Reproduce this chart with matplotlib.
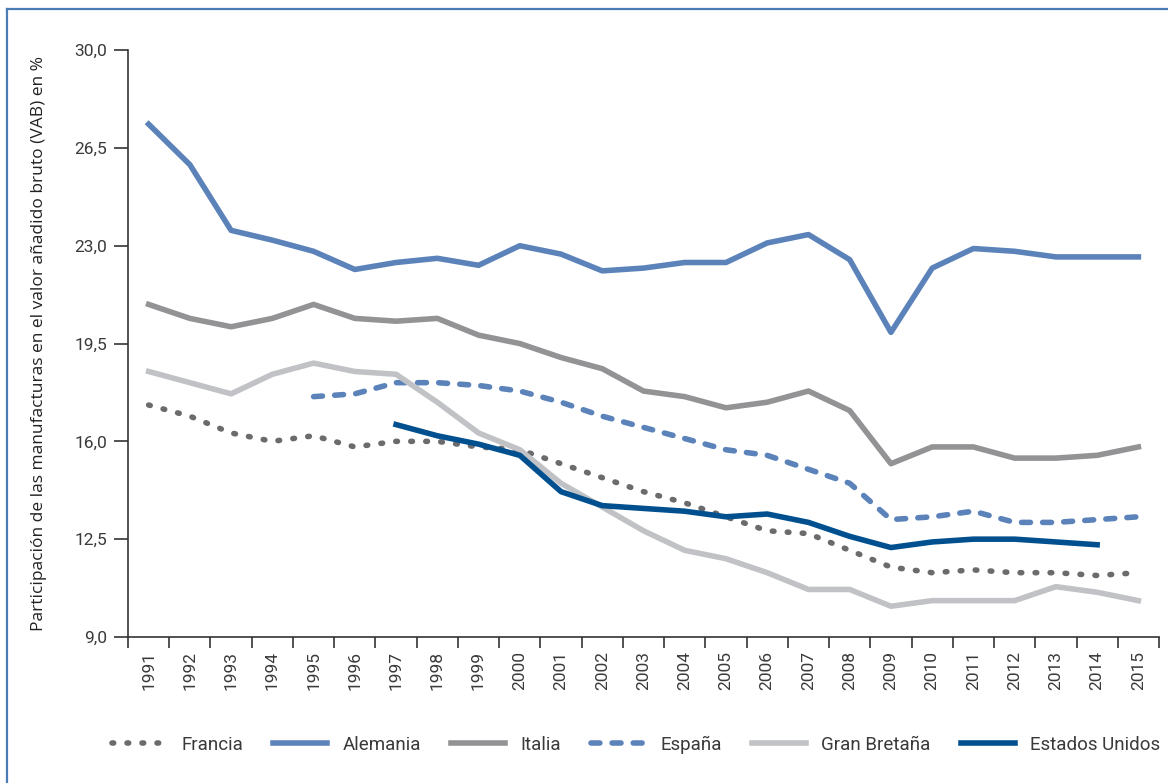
import matplotlib
matplotlib.use("Agg")
import matplotlib.pyplot as plt
from matplotlib.lines import Line2D
from matplotlib.ticker import FixedLocator, FuncFormatter
import numpy as np

years = list(range(1991, 2016))

francia = [17.3, 16.9, 16.3, 16.0, 16.2, 15.8, 16.0, 16.0, 15.8, 15.7, 15.2, 14.7, 14.2,
           13.8, 13.3, 12.8, 12.7, 12.1, 11.5, 11.3, 11.4, 11.3, 11.3, 11.2, 11.3]
alemania = [27.35, 25.9, 23.55, 23.2, 22.8, 22.15, 22.4, 22.55, 22.3, 23.0, 22.7, 22.1, 22.2,
            22.4, 22.4, 23.1, 23.4, 22.5, 19.9, 22.2, 22.9, 22.8, 22.6, 22.6, 22.6]
italia = [20.9, 20.4, 20.1, 20.4, 20.9, 20.4, 20.3, 20.4, 19.8, 19.5, 19.0, 18.6, 17.8,
          17.6, 17.2, 17.4, 17.8, 17.1, 15.2, 15.8, 15.8, 15.4, 15.4, 15.5, 15.8]
# España from 1995
espana = [None] * 4 + [17.6, 17.7, 18.1, 18.1, 18.0, 17.8, 17.4, 16.9, 16.5, 16.1, 15.7,
                       15.5, 15.0, 14.5, 13.2, 13.3, 13.5, 13.1, 13.1, 13.2, 13.3]
gran_bretana = [18.5, 18.1, 17.7, 18.4, 18.8, 18.5, 18.4, 17.4, 16.3, 15.7, 14.5, 13.65, 12.8,
                12.1, 11.8, 11.3, 10.7, 10.7, 10.1, 10.3, 10.3, 10.3, 10.8, 10.6, 10.3]
# Estados Unidos 1997-2014
estados_unidos = [None] * 6 + [16.6, 16.2, 15.9, 15.5, 14.2, 13.7, 13.6, 13.5, 13.3, 13.4,
                               13.1, 12.6, 12.2, 12.4, 12.5, 12.5, 12.4, 12.3, None]

y_ticks = [9.0, 12.5, 16.0, 19.5, 23.0, 26.5, 30.0]


def to_arr(vals):
    return np.array([np.nan if v is None else v for v in vals], dtype=float)


cond_font = ['Roboto', 'DejaVu Sans']
plt.rcParams['font.family'] = ['Open Sans', 'DejaVu Sans']

fig = plt.figure(figsize=(11.68, 7.83), dpi=100)
ax = fig.add_axes([0.1096, 0.1865, 0.8827, 0.7495])

x = np.arange(len(years))
lw = 4
ax.plot(x, to_arr(francia), color='#6b6b6d', lw=lw, linestyle=(0, (0.3, 2.4)),
        dash_capstyle='round', label='Francia')
ax.plot(x, to_arr(alemania), color='#5b83ba', lw=lw, label='Alemania')
ax.plot(x, to_arr(italia), color='#939395', lw=lw, label='Italia')
ax.plot(x, to_arr(espana), color='#5b83ba', lw=lw, linestyle=(0, (1.6, 2.2)),
        dash_capstyle='round', label='España')
ax.plot(x, to_arr(gran_bretana), color='#c1c2c5', lw=lw, label='Gran Bretaña')
ax.plot(x, to_arr(estados_unidos), color='#00508f', lw=lw, label='Estados Unidos')

ax.set_xlim(-0.5, len(years) - 0.5)
ax.set_ylim(9.0, 30.0)

ax.spines['top'].set_visible(False)
ax.spines['right'].set_visible(False)
ax.spines['left'].set_color('#333333')
ax.spines['bottom'].set_color('#333333')
ax.spines['left'].set_linewidth(1.2)
ax.spines['bottom'].set_linewidth(1.2)

ax.set_yticks(y_ticks)
ax.yaxis.set_major_formatter(FuncFormatter(lambda v, p: f"{v:.1f}".replace('.', ',')))
ax.tick_params(axis='y', length=10, width=1.2, color='#333333', pad=5,
               labelsize=12.5, labelcolor='#3a3a3a')

ax.set_xticks(x)
ax.set_xticklabels([str(y) for y in years], rotation=90)
ax.tick_params(axis='x', which='major', length=0, pad=10, labelsize=12.5, labelcolor='#3a3a3a')
ax.xaxis.set_minor_locator(FixedLocator(np.arange(-0.5, len(years), 1.0)))
ax.tick_params(axis='x', which='minor', length=8, width=1.2, color='#333333')

for lab in ax.get_xticklabels() + ax.get_yticklabels():
    lab.set_family(cond_font)

ax.set_ylabel('Participación de las manufacturas en el valor añadido bruto (VAB) en %',
              fontsize=12.5, color='#222222', labelpad=20)

leg = fig.legend(loc='center', bbox_to_anchor=(0.5445, 0.049), ncol=6, frameon=False,
                 handlelength=2.9, columnspacing=1.6, handletextpad=0.8,
                 prop={'family': cond_font, 'size': 13.5})
for t in leg.get_texts():
    t.set_color('#3a3a3a')

# frame lines of the box
fig.add_artist(Line2D([6.5 / 1168, 6.5 / 1168], [0, 1 - 9 / 783], color='#4a7db5', lw=1.6))
fig.add_artist(Line2D([6.5 / 1168, 1], [1 - 9 / 783, 1 - 9 / 783], color='#4a7db5', lw=1.6))

fig.savefig('out.png', dpi=100)
